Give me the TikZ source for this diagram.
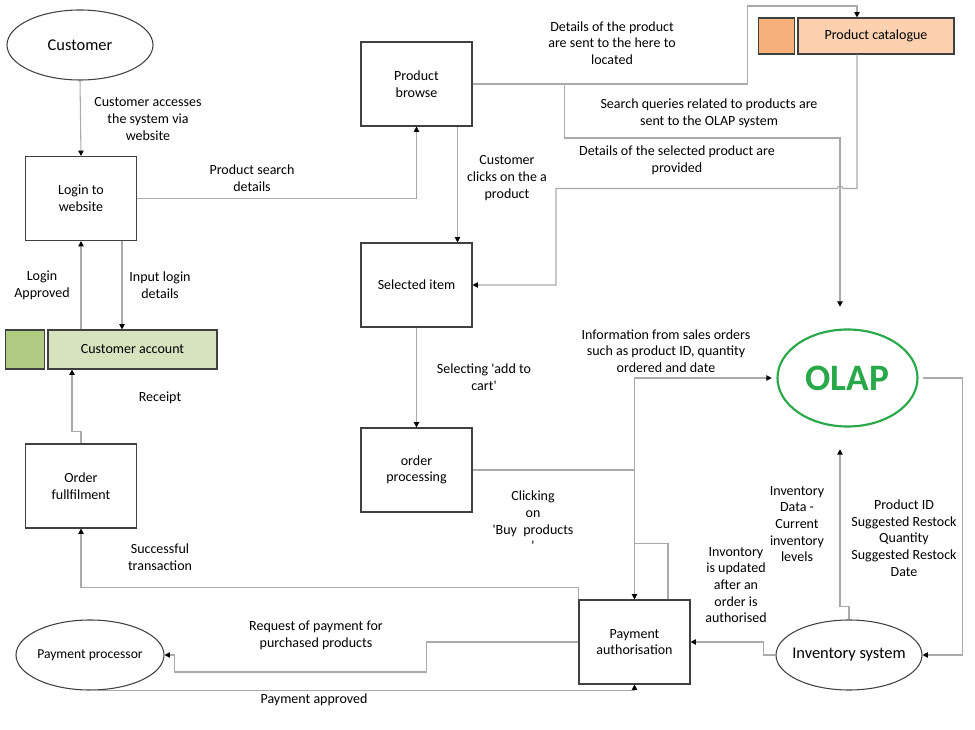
\documentclass[tikz,border=0pt]{standalone}
\usepackage{fontspec}
\setmainfont{Carlito}[Ligatures=TeXOff]
\usetikzlibrary{calc,positioning,arrows.meta,shapes.geometric}
\definecolor{linegray}{RGB}{170,170,170}
\definecolor{boxline}{RGB}{64,64,64}
\definecolor{greendark}{RGB}{176,202,130}
\definecolor{greenlight}{RGB}{214,227,190}
\definecolor{orangedark}{RGB}{246,177,122}
\definecolor{orangelight}{RGB}{251,209,176}
\definecolor{olapgreen}{RGB}{40,168,72}
\def\txt{\fontsize{10.5}{12.5}\selectfont}
\def\bigtxt{\fontsize{12.3}{14}\selectfont}
\tikzset{
	proc/.style={draw=boxline, line width=0.8pt, minimum width=83.25pt, minimum height=63pt, align=center, inner sep=0pt, font=\txt},
	extent/.style={draw=boxline, ellipse, line width=0.8pt, inner sep=0pt},
	store/.style={draw=boxline, line width=0.8pt, inner sep=0pt, font=\txt},
	flow/.style={draw=linegray, line width=0.8pt, -{Triangle[length=4pt,width=4pt,color=black]}},
	lbl/.style={align=center, inner sep=0pt, font=\txt},
}

\begin{document}
\begin{tikzpicture}[x=0.75pt,y=-0.75pt]
			%%%%% START %%%%%
			\useasboundingbox (0,0) rectangle (975,730);
			
			% external entities
			\node[extent, minimum width=109.5pt, minimum height=52.5pt, label={[font=\bigtxt]center:Customer}] (cust) at (80,45) {};
			\node[extent, minimum width=111pt, minimum height=52.5pt, label={[font=\fontsize{10.2}{12}\selectfont]center:Payment processor}] (payproc) at (90,655) {};
			\node[extent, minimum width=109.5pt, minimum height=52.5pt, label={[font=\bigtxt]center:Inventory system}] (invsys) at (849,655) {};
			
			% OLAP
			\node[minimum width=113.25pt, minimum height=106.5pt, inner sep=0pt] (olapf) at (847.5,378) {};
			\node[ellipse, draw=olapgreen, line width=1.6pt, minimum width=105pt, minimum height=72.75pt, inner sep=0pt, text=olapgreen, font=\fontsize{28}{30}\selectfont\bfseries] (olap) at (olapf.center) {OLAP};
			
			% processes
			\node[proc] (login) at (81,198.5) {Login to\\website};
			\node[proc] (fulfil) at (81,486) {Order\\fullfilment};
			\node[proc] (browse) at (416.5,84) {Product\\browse};
			\node[proc] (selitem) at (416.5,285) {Selected item};
			\node[proc] (orderproc) at (416.5,470) {order\\processing};
			\node[proc] (payauth) at (634.5,642) {Payment\\authorisation};
			
			% data stores
			\node[store, fill=greenlight, minimum width=126.75pt, minimum height=29.25pt] (custacc) at (132.5,349.5) {Customer account};
			\node[store, fill=greendark, minimum width=29.25pt, minimum height=29.25pt, left=1.5pt of custacc] (custacctab) {};
			\node[store, fill=orangelight, minimum width=117pt, minimum height=27pt] (catalogue) at (876,36) {Product catalogue};
			\node[store, fill=orangedark, minimum width=27pt, minimum height=27pt, left=1.5pt of catalogue] (cataloguetab) {};
			
			% flows
			\draw[flow] (cust.south) -- (login.north);
			\draw[flow] (login.east) -| (browse.south);
			\draw[flow] (custacc.north -| login.south) -- (login.south);
			\draw[flow] ($(login.south)+(41,0)$) coordinate (ild) -- (ild |- custacc.north);
			\draw[flow] (fulfil.north) -- ++(0,-12) -- ++(-9,0) coordinate (rct) -- (rct |- custacc.south);
			\draw[flow] (browse.east) -- ++(275,0) -- ++(0,-78) -| ($(catalogue.north)+(-19,0)$);
			\draw[flow] ($(browse.east)+(92,0)$) -- ++(0,54) -| ($(olapf.north)+(-7.5,0)$);
			\draw[flow] ($(catalogue.south)+(-19,0)$) -- ++(0,134) -- ++(-14.3,0) arc[start angle=0, end angle=180, radius=2pt] -- ++(-281.4,0) |- (selitem.east);
			\draw[flow] ($(browse.south)+(41,0)$) coordinate (cop) -- (cop |- selitem.north);
			\draw[flow] (selitem.south) -- (orderproc.north);
			\draw[flow] (orderproc.east) -| (payauth.north);
			\draw[flow] ($(payauth.north)+(33.5,0)$) -- ++(0,-56) -- ++(-33.5,0) |- (olapf.west);
			\draw[flow] (payauth.west) -- ++(-152,0) -- ++(0,30) -- ++(-252,0) |- (payproc.east);
			\draw[flow] (payauth.north west) -- ++(0,-12) -| (fulfil.south);
			\draw[flow] (payproc.south) -| (payauth.south);
			\draw[flow] (invsys.west) -- ++(-12,0) |- (payauth.east);
			\draw[flow] (invsys.north) -- ++(0,-13) -| ($(olapf.south)+(-7.5,0)$);
			\draw[flow] (olapf.east) -- ++(39,0) |- (invsys.east);
			
			% flow labels
			\node[lbl] (l-access) at (148,119) {Customer accesses\\the system via\\website};
			\node[lbl] (l-search) at (252,178) {Product search\\details};
			\node[lbl] (l-approved) at (42,285) {Login\\Approved};
			\node[lbl] (l-input) at (160,285) {Input login\\details};
			\node[lbl] (l-receipt) at (160,398) {Receipt};
			\node[lbl] (l-success) at (160,557) {Successful\\transaction};
			\node[lbl] (l-located) at (612,43) {Details of the product\\are sent to the here to\\located};
			\node[lbl] (l-queries) at (709,113) {Search queries related to products are\\sent to the OLAP system};
			\node[lbl] (l-selected) at (677,160) {Details of the selected product are\\provided};
			\node[lbl] (l-clicks) at (507,178) {Customer\\clicks on the a\\product};
			\node[lbl] (l-cart) at (484,377) {Selecting 'add to\\cart'};
			\node[lbl] (l-buy) at (533,521) {Clicking\\on\\'Buy~ products\\'};
			\node[lbl] (l-sales) at (666,351) {Information from sales orders\\such as product ID, quantity\\ordered and date};
			\node[lbl] (l-invdata) at (797,524) {Inventory\\Data -\\Current\\inventory\\levels};
			\node[lbl] (l-updated) at (736,585) {Invontory\\is updated\\after an\\order is\\authorised};
			\node[lbl] (l-restock) at (904,538) {Product ID\\Suggested Restock\\Quantity\\Suggested Restock\\Date};
			\node[lbl] (l-request) at (316,635) {Request of payment for\\purchased products};
			\node[lbl] (l-payok) at (314,700) {Payment approved};
			
			%%%%% END %%%%%
\end{tikzpicture}
\end{document}
